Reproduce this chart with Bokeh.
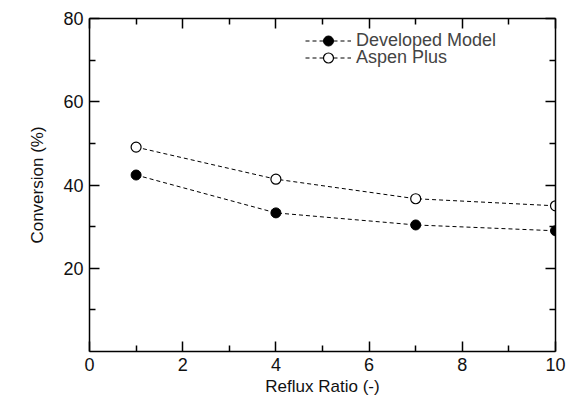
from bokeh.plotting import figure
from bokeh.models import LinearAxis, FixedTicker, Legend, LegendItem, Range1d
from bokeh.embed import file_html
from bokeh.resources import INLINE

reflux_ratio = [1, 4, 7, 10]
developed_model = [42.4, 33.3, 30.4, 29.0]
aspen_plus = [49.1, 41.4, 36.7, 35.0]

x_major = [0, 2, 4, 6, 8, 10]
x_minor = [1, 3, 5, 7, 9]
y_major = [20, 40, 60, 80]
y_minor = [10, 30, 50, 70]

FONT = "Liberation Sans"

p = figure(width=575, height=410, output_backend="svg", toolbar_location=None,
           x_range=Range1d(0, 10), y_range=Range1d(0, 80),
           min_border_left=89, min_border_right=20, min_border_top=18, min_border_bottom=59,
           x_axis_label="Reflux Ratio (-)", y_axis_label="Conversion (%)")
p.grid.visible = False
p.outline_line_color = None
p.background_fill_color = "white"
p.border_fill_color = "white"

def style_axis(ax, ticks, minors, show_labels):
    ax.ticker = FixedTicker(ticks=ticks, minor_ticks=minors)
    ax.axis_line_width = 1.5
    ax.axis_line_color = "black"
    ax.major_tick_in = 10
    ax.major_tick_out = 0
    ax.minor_tick_in = 6
    ax.minor_tick_out = 0
    ax.major_tick_line_width = 1.5
    ax.minor_tick_line_width = 1.5
    ax.major_label_text_font = FONT
    ax.major_label_text_font_size = "18px"
    ax.major_label_text_color = "#111111"
    ax.major_label_standoff = 6
    ax.axis_label_text_font = FONT
    ax.axis_label_text_font_size = "17px"
    ax.axis_label_text_font_style = "normal"
    ax.axis_label_text_color = "#111111"
    if not show_labels:
        ax.major_label_text_alpha = 0
        ax.major_label_text_font_size = "0px"

style_axis(p.xaxis[0], x_major, x_minor, True)
style_axis(p.yaxis[0], y_major, y_minor, True)
p.xaxis[0].axis_label_standoff = 3
p.yaxis[0].axis_label_standoff = 13

top = LinearAxis()
style_axis(top, x_major, x_minor, False)
p.add_layout(top, "above")
right = LinearAxis()
style_axis(right, y_major, y_minor, False)
p.add_layout(right, "right")

l1 = p.line(reflux_ratio, developed_model, line_color="black", line_width=1, line_dash="4 3")
c1 = p.scatter(reflux_ratio, developed_model, marker="circle", size=10,
               fill_color="black", line_color="black", line_width=1)
l2 = p.line(reflux_ratio, aspen_plus, line_color="black", line_width=1, line_dash="4 3")
c2 = p.scatter(reflux_ratio, aspen_plus, marker="circle", size=10,
               fill_color="white", line_color="black", line_width=1.2)

def make_legend(label, renderers, loc):
    return Legend(items=[LegendItem(label=label, renderers=renderers)],
                  location=loc, orientation="vertical",
                  glyph_width=46, glyph_height=25, spacing=0, padding=0, margin=0,
                  label_standoff=5, label_text_font=FONT, label_text_font_size="18px",
                  label_height=17, border_line_color=None, background_fill_alpha=0)

p.add_layout(make_legend("Developed Model", [l1, c1], (216, 298)), "center")
p.add_layout(make_legend("Aspen Plus", [l2, c2], (216, 281)), "center")

open("out.html", "w").write(file_html(p, INLINE))
